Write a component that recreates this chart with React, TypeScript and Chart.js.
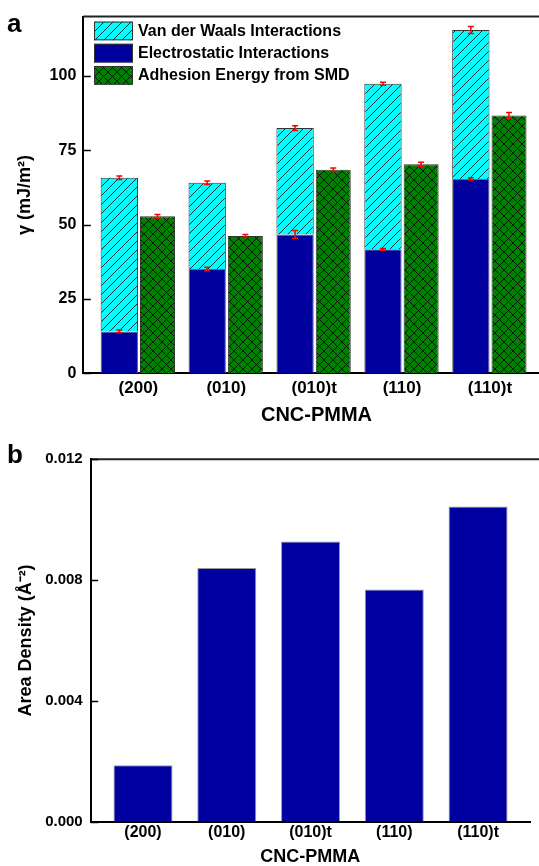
import { useEffect, useRef } from 'react';
import { Chart, registerables } from 'chart.js';

Chart.register(...registerables);

const FAMILY = '"Liberation Sans", Arial, Helvetica, sans-serif';

// ---- Panel a data ----
const categories = ['(200)', '(010)', '(010)t', '(110)', '(110)t'];
const electrostatic = [14.1, 35.1, 46.7, 41.7, 65.4];
const electrostaticErr = [0.5, 0.6, 1.3, 0.3, 0.4];
const vanDerWaals = [51.7, 29.0, 35.8, 55.7, 50.1];
const totalErr = [0.6, 0.6, 0.8, 0.5, 1.2];
const adhesion = [52.8, 46.2, 68.5, 70.3, 86.7];
const adhesionErr = [0.6, 0.5, 0.6, 0.7, 1.0];
const yTicksA = [0, 25, 50, 75, 100];

// ---- Panel b data ----
const areaDensity = [0.00186, 0.0084, 0.00928, 0.00769, 0.01044];
const yTicksB = [0, 0.004, 0.008, 0.012];

function makeHatch(bg: string, cross: boolean): CanvasPattern {
  const s = 9;
  const c = document.createElement('canvas');
  c.width = s;
  c.height = s;
  const g = c.getContext('2d')!;
  g.fillStyle = bg;
  g.fillRect(0, 0, s, s);
  g.strokeStyle = '#000';
  g.lineWidth = 0.8;
  g.beginPath();
  g.moveTo(-1, s + 1);
  g.lineTo(s + 1, -1);
  g.moveTo(-1, 1);
  g.lineTo(1, -1);
  g.moveTo(s - 1, s + 1);
  g.lineTo(s + 1, s - 1);
  if (cross) {
    g.moveTo(-1, -1);
    g.lineTo(s + 1, s + 1);
    g.moveTo(s - 1, -1);
    g.lineTo(s + 1, 1);
    g.moveTo(-1, s - 1);
    g.lineTo(1, s + 1);
  }
  g.stroke();
  return g.createPattern(c, 'repeat')!;
}

const errorBarPlugin = {
  id: 'errorBars',
  afterDatasetsDraw(chart: any) {
    const ctx = chart.ctx;
    const y = chart.scales.y;
    chart.data.datasets.forEach((ds: any, i: number) => {
      if (!ds.errors) return;
      const meta = chart.getDatasetMeta(i);
      meta.data.forEach((el: any, j: number) => {
        const e = ds.errors[j];
        const d = Math.abs(y.getPixelForValue(0) - y.getPixelForValue(e));
        ctx.save();
        ctx.strokeStyle = '#FF0000';
        ctx.lineWidth = 1.5;
        ctx.beginPath();
        ctx.moveTo(el.x, el.y - d);
        ctx.lineTo(el.x, el.y + d);
        ctx.moveTo(el.x - 3, el.y - d);
        ctx.lineTo(el.x + 3, el.y - d);
        ctx.moveTo(el.x - 3, el.y + d);
        ctx.lineTo(el.x + 3, el.y + d);
        ctx.stroke();
        ctx.restore();
      });
    });
  },
};

const framePlugin = {
  id: 'frameTop',
  afterDraw(chart: any) {
    const { ctx, chartArea } = chart;
    const y = chart.scales.y;
    ctx.save();
    ctx.strokeStyle = '#222';
    ctx.lineWidth = 2;
    ctx.beginPath();
    ctx.moveTo(chartArea.left, chartArea.top);
    ctx.lineTo(chart.width, chartArea.top);
    ctx.stroke();
    // inward tick marks on the left axis
    ctx.strokeStyle = '#000';
    ctx.lineWidth = 1.6;
    ctx.beginPath();
    y.ticks.forEach((t: any) => {
      const py = Math.round(y.getPixelForValue(t.value)) + 0.5;
      ctx.moveTo(chartArea.left, py);
      ctx.lineTo(chartArea.left + 7.5, py);
    });
    ctx.stroke();
    const lbl = chart.options.plugins.panelLabel;
    if (lbl) {
      ctx.fillStyle = '#000';
      ctx.font = `bold 26px ${FAMILY}`;
      ctx.textAlign = 'left';
      ctx.textBaseline = 'alphabetic';
      ctx.fillText(lbl.text, lbl.x, lbl.y);
    }
    ctx.restore();
  },
};

const legendPlugin = {
  id: 'boxLegend',
  afterDraw(chart: any) {
    const opts = chart.options.plugins.boxLegend;
    if (!opts) return;
    const { ctx, chartArea } = chart;
    ctx.save();
    opts.order.forEach((di: number, k: number) => {
      const ds = chart.data.datasets[di];
      const bx = chartArea.left + 10.7;
      const by = chartArea.top + 5 + k * 22.2;
      ctx.fillStyle = ds.backgroundColor;
      ctx.fillRect(bx, by, 39, 18.7);
      ctx.strokeStyle = '#333';
      ctx.lineWidth = 1;
      ctx.strokeRect(bx + 0.5, by + 0.5, 38, 17.7);
      ctx.fillStyle = '#000';
      ctx.font = `bold 16px ${FAMILY}`;
      ctx.textAlign = 'left';
      ctx.textBaseline = 'middle';
      ctx.fillText(ds.label, bx + 44, by + 9.8);
    });
    ctx.restore();
  },
};

function tickFont(size: number) {
  return { size, weight: 'bold' as const, family: FAMILY };
}

export default function App() {
  const refA = useRef<HTMLCanvasElement>(null);
  const refB = useRef<HTMLCanvasElement>(null);

  useEffect(() => {
    const cyan = makeHatch('#00FFFF', false);
    const green = makeHatch('#008000', true);
    const navy = '#00009E';

    const chartA = new Chart(refA.current!, {
      type: 'bar',
      data: {
        datasets: [
          {
            label: 'Electrostatic Interactions',
            data: electrostatic.map((v, i) => ({ x: i, y: v })),
            stack: 'calc',
            backgroundColor: navy,
            borderColor: '#666',
            borderWidth: 1,
            barPercentage: 0.978,
            categoryPercentage: 0.8686,
            errors: electrostaticErr,
          } as any,
          {
            label: 'Van der Waals Interactions',
            data: vanDerWaals.map((v, i) => ({ x: i, y: v })),
            stack: 'calc',
            backgroundColor: cyan,
            borderColor: '#333',
            borderWidth: 1,
            barPercentage: 0.978,
            categoryPercentage: 0.8686,
            errors: totalErr,
          } as any,
          {
            label: 'Adhesion Energy from SMD',
            data: adhesion.map((v, i) => ({ x: i, y: v })),
            stack: 'smd',
            backgroundColor: green,
            borderColor: '#333',
            borderWidth: 1,
            barPercentage: 0.917,
            categoryPercentage: 0.8686,
            errors: adhesionErr,
          } as any,
        ],
      },
      options: {
        responsive: false,
        animation: false,
        devicePixelRatio: 1,
        layout: { padding: { left: 0, top: 14, right: 10.3, bottom: 0 } },
        plugins: {
          legend: { display: false },
          tooltip: { enabled: false },
          boxLegend: { order: [1, 0, 2] },
          panelLabel: { text: 'a', x: 7, y: 32 },
        } as any,
        scales: {
          x: {
            type: 'linear',
            min: -0.627,
            max: 4.68,
            offset: false,
            z: 1,
            afterBuildTicks: (s: any) => {
              s.ticks = categories.map((_, i) => ({ value: i }));
            },
            afterFit: (s: any) => {
              s.height = 56.7;
            },
            grid: { display: false, drawTicks: false, offset: false },
            border: { display: true, color: '#000', width: 2 },
            ticks: {
              callback: (v: any) => categories[v] ?? '',
              autoSkip: false,
              maxRotation: 0,
              padding: 4.5,
              color: '#000',
              font: tickFont(17),
            },
            title: {
              display: true,
              text: 'CNC-PMMA',
              color: '#000',
              font: tickFont(20),
              padding: { top: 0, bottom: 3 },
            },
          },
          y: {
            min: 0,
            max: 120,
            stacked: true,
            z: 1,
            afterBuildTicks: (s: any) => {
              s.ticks = yTicksA.map((v) => ({ value: v }));
            },
            afterFit: (s: any) => {
              s.width = 83.3;
            },
            grid: { display: false, drawTicks: false },
            border: { display: true, color: '#000', width: 2 },
            ticks: { padding: 7, color: '#000', font: tickFont(16) },
            title: {
              display: true,
              text: 'γ (mJ/m²)',
              color: '#000',
              font: tickFont(18),
              padding: { top: 14, bottom: 0 },
            },
          },
        },
      } as any,
      plugins: [errorBarPlugin, framePlugin, legendPlugin],
    });

    const chartB = new Chart(refB.current!, {
      type: 'bar',
      data: {
        datasets: [
          {
            label: 'Area Density',
            data: areaDensity.map((v, i) => ({ x: i, y: v })),
            backgroundColor: '#0000A0',
            borderColor: '#999',
            borderWidth: 1,
            barPercentage: 1,
            categoryPercentage: 0.7045,
          } as any,
        ],
      },
      options: {
        responsive: false,
        animation: false,
        devicePixelRatio: 1,
        layout: { padding: { left: 0, top: 29.3, right: 9, bottom: 0 } },
        plugins: {
          legend: { display: false },
          tooltip: { enabled: false },
          panelLabel: { text: 'b', x: 7, y: 33 },
        } as any,
        scales: {
          x: {
            type: 'linear',
            min: -0.6245,
            max: 4.62,
            offset: false,
            z: 1,
            afterBuildTicks: (s: any) => {
              s.ticks = categories.map((_, i) => ({ value: i }));
            },
            afterFit: (s: any) => {
              s.height = 44.5;
            },
            grid: { display: false, drawTicks: false, offset: false },
            border: { display: true, color: '#000', width: 2 },
            ticks: {
              callback: (v: any) => categories[v] ?? '',
              autoSkip: false,
              maxRotation: 0,
              padding: 1.6,
              color: '#000',
              font: tickFont(16),
            },
            title: {
              display: true,
              text: 'CNC-PMMA',
              color: '#000',
              font: { ...tickFont(18), lineHeight: 1 },
              padding: { top: 0, bottom: 0.3 },
            },
          },
          y: {
            min: 0,
            max: 0.012,
            z: 1,
            afterBuildTicks: (s: any) => {
              s.ticks = yTicksB.map((v) => ({ value: v }));
            },
            afterFit: (s: any) => {
              s.width = 90.7;
            },
            grid: { display: false, drawTicks: false },
            border: { display: true, color: '#000', width: 2 },
            ticks: {
              padding: 8,
              color: '#000',
              font: tickFont(15),
              callback: (v: any) => Number(v).toFixed(3),
            },
            title: {
              display: true,
              text: 'Area Density (Å⁻²)',
              color: '#000',
              font: tickFont(18),
              padding: { top: 15, bottom: 0 },
            },
          },
        },
      } as any,
      plugins: [framePlugin],
    });

    return () => {
      chartA.destroy();
      chartB.destroy();
    };
  }, []);

  return (
    <div
      style={{
        position: 'fixed',
        left: 0,
        top: 0,
        width: 539,
        height: 866,
        overflow: 'hidden',
        background: '#fff',
      }}
    >
      <canvas ref={refA} width={560} height={430} style={{ display: 'block', width: 560, height: 430 }} />
      <canvas ref={refB} width={539} height={436} style={{ display: 'block', width: 539, height: 436 }} />
    </div>
  );
}
